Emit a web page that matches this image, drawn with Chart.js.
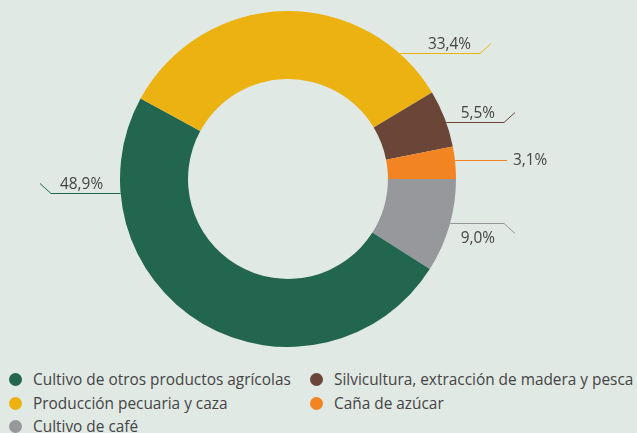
<!DOCTYPE html>
<html>
<head>
<meta charset="utf-8">
<script src="https://cdn.jsdelivr.net/npm/chart.js@4"></script>
<style>
  html, body { margin: 0; padding: 0; background: #e1e9e4; width: 637px; height: 433px; overflow: hidden; }
  #wrap { position: relative; width: 637px; height: 433px; }
  #c { position: absolute; left: 0; top: 0; }
  #legend { position: absolute; left: 9px; top: 368px; display: grid; grid-template-columns: 301px auto; grid-auto-rows: 23.5px; color: #444; font-family: "Open Sans", sans-serif; }
  .item { display: flex; align-items: center; white-space: nowrap; height: 23.5px; }
  .dot { width: 13px; height: 13px; border-radius: 50%; margin-right: 11px; flex: none; }
</style>
</head>
<body>
<div id="wrap">
  <canvas id="c" width="637" height="365"></canvas>
  <div id="legend"></div>
</div>
<script>
// ---- data (chart order, clockwise from 3 o'clock) ----
const categories = [
  "Cultivo de café",
  "Cultivo de otros productos agrícolas",
  "Producción pecuaria y caza",
  "Silvicultura, extracción de madera y pesca",
  "Caña de azúcar"
];
const shares = [9.0, 48.9, 33.4, 5.5, 3.1];
const valueLabels = ["9,0%", "48,9%", "33,4%", "5,5%", "3,1%"];
const legendOrder = [1, 3, 2, 4, 0];

// ---- style ----
const colors = ["#97989b", "#22664f", "#ebb212", "#6b4638", "#f28421"];
const fontFamily = '"Open Sans", sans-serif';
const textColor = "#444";

// fit font size to reference legend text width
const mctx = document.createElement("canvas").getContext("2d");
mctx.font = "100px " + fontFamily;
const fitW = mctx.measureText("Cultivo de otros productos agrícolas").width;
const fontSize = Math.round(100 * 258 / fitW * 10) / 10;

// leader label styles per slice (chart order)
const labelStyle = [
  { frac: 0.47, elbow: 216, diag: 1 },
  { frac: 0.81, elbow: -237, diag: -1 },
  { frac: 0.854, elbow: 192, diag: -1 },
  { frac: 0.57, elbow: 216, diag: -1 },
  { frac: 0.43, elbow: 219, diag: 0 }
];

const leaderPlugin = {
  id: "leaders",
  afterDatasetsDraw(chart) {
    const ctx = chart.ctx;
    const meta = chart.getDatasetMeta(0);
    ctx.save();
    ctx.font = fontSize + "px " + fontFamily;
    ctx.lineWidth = 1;
    meta.data.forEach((arc, i) => {
      const st = labelStyle[i];
      const p = arc.getProps(["x", "y", "startAngle", "endAngle", "outerRadius"], true);
      const a = p.startAngle + st.frac * (p.endAngle - p.startAngle);
      const x0 = p.x + p.outerRadius * Math.cos(a);
      const y0 = Math.round(p.y + p.outerRadius * Math.sin(a)) + 0.5;
      const ex = p.x + st.elbow;
      const side = st.elbow > 0 ? 1 : -1;
      ctx.strokeStyle = colors[i];
      ctx.beginPath();
      ctx.moveTo(x0, y0);
      ctx.lineTo(ex, y0);
      if (st.diag !== 0) ctx.lineTo(ex + side * 11, y0 + st.diag * 10);
      ctx.stroke();
      ctx.fillStyle = textColor;
      ctx.textBaseline = "alphabetic";
      if (st.diag === 0) {
        ctx.textAlign = side > 0 ? "left" : "right";
        ctx.textBaseline = "middle";
        ctx.fillText(valueLabels[i], ex + side * 6, y0);
      } else {
        ctx.textAlign = side > 0 ? "right" : "left";
        const ty = st.diag < 0 ? y0 - 5 : y0 + 19;
        ctx.fillText(valueLabels[i], ex - side * 9, ty);
      }
    });
    ctx.restore();
  }
};

new Chart(document.getElementById("c"), {
  type: "doughnut",
  data: {
    labels: categories,
    datasets: [{
      data: shares,
      backgroundColor: colors,
      borderWidth: 0,
      hoverOffset: 0
    }]
  },
  options: {
    responsive: false,
    devicePixelRatio: 1,
    animation: false,
    rotation: 90,
    cutout: "59.5%",
    layout: { padding: { left: 0, right: 61, top: 11, bottom: 18 } },
    plugins: { legend: { display: false }, tooltip: { enabled: false } }
  },
  plugins: [leaderPlugin]
});

// HTML legend
const lg = document.getElementById("legend");
lg.style.fontSize = fontSize + "px";
legendOrder.forEach(i => {
  const d = document.createElement("div");
  d.className = "item";
  const dot = document.createElement("span");
  dot.className = "dot";
  dot.style.background = colors[i];
  const t = document.createElement("span");
  t.textContent = categories[i];
  d.appendChild(dot);
  d.appendChild(t);
  lg.appendChild(d);
});
</script>
</body>
</html>
